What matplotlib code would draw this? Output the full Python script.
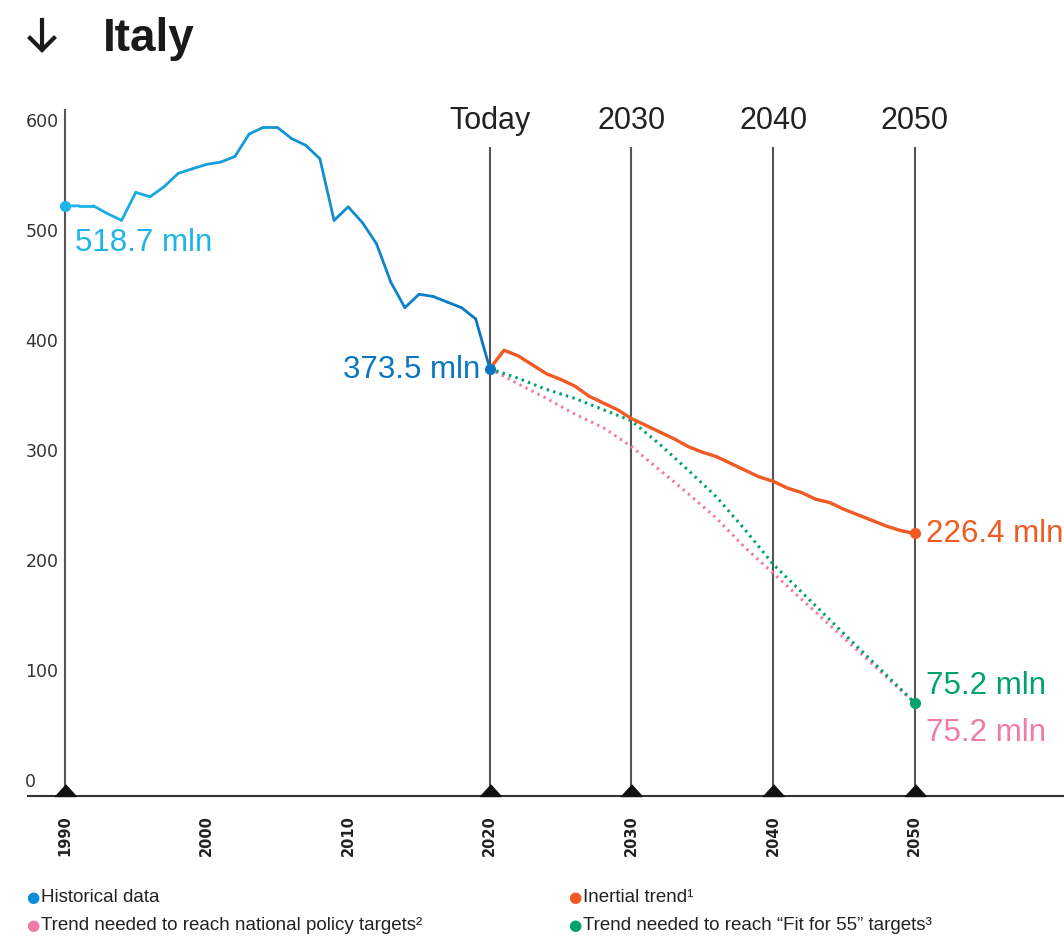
import numpy as np
import matplotlib.pyplot as plt
from matplotlib.lines import Line2D
from matplotlib.collections import LineCollection
from matplotlib.colors import to_rgb

# emissions, mln tonnes
hist_years = np.arange(1990, 2021)
hist_vals = [518.7, 519, 519, 512, 506, 531, 527, 536, 548, 552, 556, 558, 563,
             583, 589, 589, 579, 573, 561, 506, 518, 504, 485, 451, 428, 440,
             438, 433, 428, 418, 373.5]

inertial_years = np.arange(2020, 2051)
inertial_vals = [373.5, 390, 385, 377, 369, 364, 358, 349, 343, 337, 329, 323,
                 317, 311, 304, 299, 295, 289, 283, 277, 273, 267, 263, 257,
                 254, 248, 243, 238, 233, 229, 226.4]

target_years = [2020, 2022, 2024, 2026, 2028, 2030, 2032, 2034, 2036, 2038, 2040, 2045, 2050]
fit55_vals = [373.5, 365, 355, 347, 337, 327, 306, 283, 259, 230, 199, 137, 75.2]
national_vals = [373.5, 360, 347, 333, 321, 304, 283, 262, 240, 214, 191, 133, 75.2]

yticks = [0, 100, 200, 300, 400, 500, 600]
xticks = [1990, 2000, 2010, 2020, 2030, 2040, 2050]
marker_years = [1990, 2020, 2030, 2040, 2050]
header_years = [2020, 2030, 2040, 2050]
header_labels = ["Today", "2030", "2040", "2050"]

CYAN = "#1cb5e6"
BLUE = "#0a76c2"
ORANGE = "#f15a24"
GREEN = "#00a36c"
PINK = "#f27aa9"
GRID = "#555555"

W, H = 1064, 937
fig = plt.figure(figsize=(W / 100, H / 100), dpi=100)
ax = fig.add_axes([28 / W, (H - 797) / H, (W - 28) / W, (797 - 110) / H])
ax.set_xlim(1987.39, 2060.54)
ax.set_ylim(-8.0, 605.4)
for s in ["top", "right", "left"]:
    ax.spines[s].set_visible(False)
ax.spines["bottom"].set_color("#333333")
ax.spines["bottom"].set_linewidth(1.5)
ax.set_yticks([])
ax.set_xticks(xticks)
ax.set_xticklabels([str(x) for x in xticks], rotation=90, fontweight="bold",
                   fontsize=10.5, color="#222222")
ax.tick_params(axis="x", length=0, pad=13)

# vertical guide lines
ax.vlines(1990, -8, 605.4, color=GRID, lw=1.5, zorder=1)
ax.vlines(header_years, -8, 571.4, color=GRID, lw=1.5, zorder=1)
tri = [(-1, 0), (1, 0), (0, 1.1)]
ax.plot(marker_years, [-8.0] * len(marker_years), ls="none", marker=tri,
        ms=17, color="#111111", clip_on=False, zorder=5)

for yr, lab in zip(header_years, header_labels):
    ax.text(yr, 596, lab, ha="center", va="center", fontsize=22,
            family=["Liberation Sans", "DejaVu Sans"], color="#222222")

for v in yticks:
    ax.annotate(str(v), (1987.2, v), xytext=(0, 6 - v * 12 / 600),
                textcoords="offset pixels", ha="left", va="center",
                fontsize=12.5, color="#333333", annotation_clip=False)

# historical line with a cyan->blue gradient
pts = np.column_stack([hist_years, hist_vals])
segs = np.stack([pts[:-1], pts[1:]], axis=1)
c0, c1 = np.array(to_rgb(CYAN)), np.array(to_rgb(BLUE))
t = np.linspace(0, 1, len(segs))
cols = [tuple(c0 + (c1 - c0) * ti) for ti in t]
ax.add_collection(LineCollection(segs, colors=cols, linewidths=2.0,
                                 capstyle="round", joinstyle="round", zorder=4))

ax.plot(inertial_years, inertial_vals, color=ORANGE, lw=2.4, zorder=3,
        solid_joinstyle="round")
ax.plot(target_years, national_vals, color=PINK, lw=2.2, ls=(0, (0.8, 1.4)), zorder=2)
ax.plot(target_years, fit55_vals, color=GREEN, lw=2.2, ls=(0, (0.8, 1.4)), zorder=2)

ax.plot(hist_years[0], hist_vals[0], "o", color=CYAN, ms=7, zorder=6, clip_on=False)
ax.plot(hist_years[-1], hist_vals[-1], "o", color=BLUE, ms=7, zorder=6)
ax.plot(inertial_years[-1], inertial_vals[-1], "o", color=ORANGE, ms=7, zorder=6)
ax.plot(target_years[-1], fit55_vals[-1], "o", color=GREEN, ms=7, zorder=6)

lab_font = dict(fontsize=22.5, family=["Liberation Sans", "DejaVu Sans"])
ax.annotate(f"{hist_vals[0]} mln", (hist_years[0], hist_vals[0]),
            xytext=(10, -36), textcoords="offset pixels", ha="left", va="center",
            color=CYAN, **lab_font)
ax.annotate(f"{hist_vals[-1]} mln", (hist_years[-1], hist_vals[-1]),
            xytext=(-10, 0), textcoords="offset pixels", ha="right", va="center",
            color=BLUE, **lab_font)
ax.annotate(f"{inertial_vals[-1]} mln", (inertial_years[-1], inertial_vals[-1]),
            xytext=(11, 0), textcoords="offset pixels", ha="left", va="center",
            color=ORANGE, annotation_clip=False, **lab_font)
ax.annotate(f"{fit55_vals[-1]} mln", (target_years[-1], fit55_vals[-1]),
            xytext=(11, 18), textcoords="offset pixels", ha="left", va="center",
            color=GREEN, **lab_font)
ax.annotate(f"{national_vals[-1]} mln", (target_years[-1], national_vals[-1]),
            xytext=(11, -29), textcoords="offset pixels", ha="left", va="center",
            color=PINK, **lab_font)

# title: down arrow drawn as shaft + chevron, then the country name
def fx(px):
    return px / W

def fy(py):
    return 1 - py / H

fig.add_artist(Line2D([fx(42), fx(42)], [fy(21), fy(50)], lw=3.0, color="#1a1a1a",
                      transform=fig.transFigure))
fig.add_artist(Line2D([fx(30), fx(42), fx(54)], [fy(39), fy(51), fy(39)], lw=3.0,
                      color="#1a1a1a", solid_joinstyle="miter",
                      transform=fig.transFigure))
fig.text(fx(103), fy(39), "Italy", ha="left", va="center", fontsize=33,
         fontweight="bold", family=["Liberation Sans", "DejaVu Sans"], color="#1a1a1a")

# legend
legend_items = [
    ("Historical data", "#0a8fd6", 33, 898),
    ("Inertial trend¹", ORANGE, 575, 898),
    ("Trend needed to reach national policy targets²", PINK, 33, 926),
    ("Trend needed to reach “Fit for 55” targets³", GREEN, 575, 926),
]
for text, col, px, py in legend_items:
    fig.text(fx(px), fy(py), "●", ha="center", va="center", fontsize=11,
             color=col, family=["DejaVu Sans"])
    fig.text(fx(px + 8), fy(py), text, ha="left", va="center", fontsize=13.5,
             color="#222222", family=["Liberation Sans", "DejaVu Sans"])

fig.savefig("out.png", dpi=100)
